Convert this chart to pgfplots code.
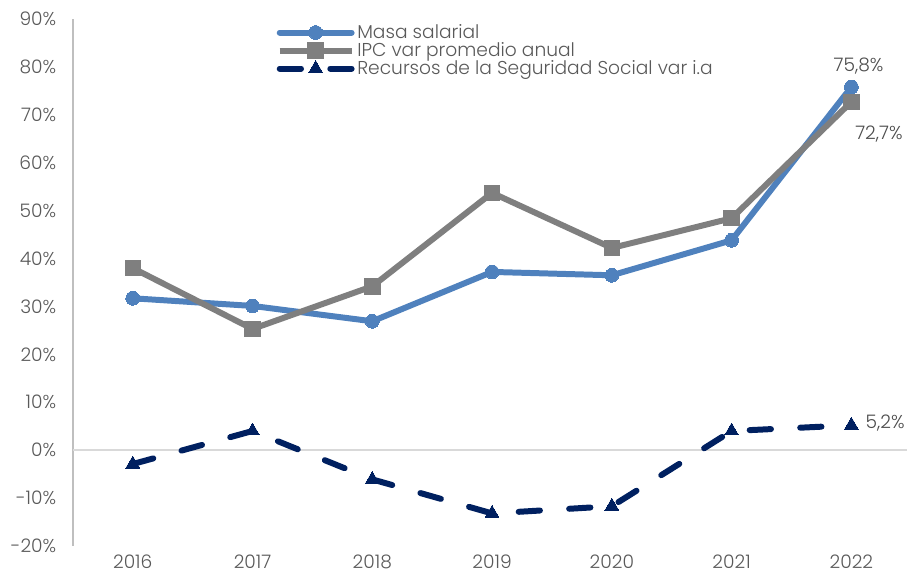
\documentclass[border=0pt]{standalone}
\usepackage{pgfplots}
\pgfplotsset{compat=1.18}
\usepackage{fontspec}
\setmainfont{Poppins}[UprightFont=* Light]
\definecolor{cmasa}{HTML}{4F81BD}
\definecolor{cipc}{HTML}{7F7F7F}
\definecolor{crec}{HTML}{002060}
\definecolor{ctxt}{HTML}{595959}
\definecolor{caxis}{HTML}{BFBFBF}
\definecolor{czero}{HTML}{D9D9D9}

\begin{document}
\begin{tikzpicture}
\begin{axis}[
    name=ax,
    scale only axis,
    width=627pt, height=396pt,
    xmin=-0.5, xmax=6.467,
    ymin=-20, ymax=90,
    axis x line=bottom,
    x axis line style={draw=none},
    axis y line=left,
    y axis line style={-, draw=caxis, line width=1.2pt},
    major tick length=0pt,
    xtick={0,...,6},
    xticklabels={2016,2017,2018,2019,2020,2021,2022},
    ytick={-20,-10,...,90},
    yticklabels={-20\%,-10\%,0\%,10\%,20\%,30\%,40\%,50\%,60\%,70\%,80\%,90\%},
    tick label style={font=\fontsize{14}{16}\selectfont, text=ctxt},
    yticklabel style={xshift=-9pt},
    xticklabel style={yshift=-3pt},
    clip=false,
    legend cell align=left,
    legend style={draw=none, fill=none, at={(0.244,0.995)}, anchor=north west,
        font=\fontsize{14}{14}\selectfont, text=ctxt,
        row sep=-2.5pt, inner sep=0pt},
    legend image code/.code={
        \draw[#1, mark repeat=2, mark phase=2] plot coordinates {(0pt,0pt) (27pt,0pt) (54pt,0pt)};
    },
]
\draw[czero, line width=1.2pt] (axis cs:-0.5,0) -- (axis cs:6.467,0);

\addplot[cmasa, line width=4.5pt, line cap=round, mark=*, mark size=5.2pt,
    mark options={solid, fill=cmasa, draw=cmasa, line width=0pt}] coordinates {
    (0,31.7) (1,30.1) (2,26.9) (3,37.2) (4,36.5) (5,43.8) (6,75.8)
};
\addlegendentry{Masa salarial}

\addplot[cipc, line width=4.5pt, mark=square*, mark size=5.8pt,
    mark options={solid, fill=cipc, draw=cipc, line width=0pt}] coordinates {
    (0,38.0) (1,25.3) (2,34.2) (3,53.7) (4,42.2) (5,48.4) (6,72.7)
};
\addlegendentry{IPC var promedio anual}

\addplot[crec, line width=4.5pt, line cap=round, dash pattern=on 16pt off 22pt,
    mark=triangle*, mark size=6pt,
    mark options={solid, fill=crec, draw=crec, line width=0pt}] coordinates {
    (0,-2.9) (1,4.0) (2,-6.1) (3,-13.2) (4,-11.7) (5,4.0) (6,5.2)
};
\addlegendentry{Recursos de la Seguridad Social var i.a}

\node[font=\fontsize{14}{16}\selectfont, text=ctxt!85!black, anchor=south] at (axis cs:6.06,77.4) {75,8\%};
\node[font=\fontsize{14}{16}\selectfont, text=ctxt!85!black, anchor=north] at (axis cs:6.23,68.6) {72,7\%};
\node[font=\fontsize{14}{16}\selectfont, text=ctxt!85!black, anchor=west] at (axis cs:6.08,5.6) {5,2\%};
\end{axis}
\path[use as bounding box] ([xshift=-54.75pt,yshift=-25.5pt]ax.south west) rectangle ([yshift=14.25pt]ax.north east);
\end{tikzpicture}
\end{document}
